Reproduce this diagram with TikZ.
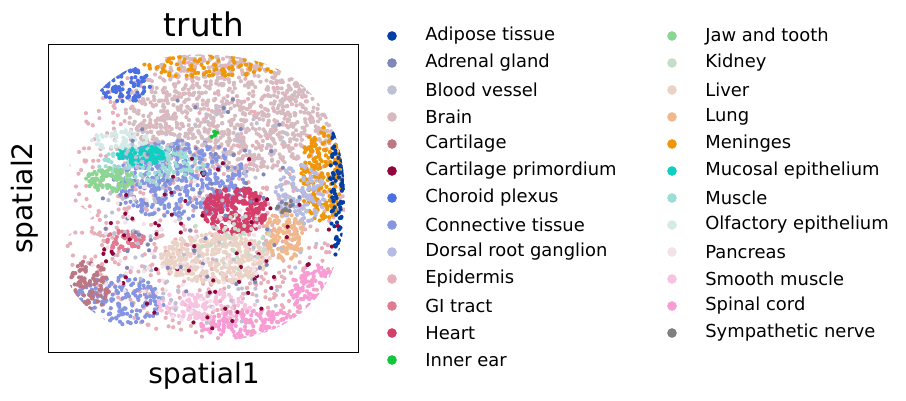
\documentclass[tikz,border=0pt]{standalone}
\usepackage{fontspec}
\setmainfont{DejaVu Sans}
\usetikzlibrary{positioning}
\definecolor{cAdi}{HTML}{023FA5}\definecolor{cAdr}{HTML}{7D87B9}\definecolor{cBlo}{HTML}{BEC1D4}
\definecolor{cBra}{HTML}{D6BCC0}\definecolor{cCar}{HTML}{BB7784}\definecolor{cCap}{HTML}{8E063B}
\definecolor{cCho}{HTML}{4A6FE3}\definecolor{cCon}{HTML}{8595E1}\definecolor{cDor}{HTML}{B5BBE3}
\definecolor{cEpi}{HTML}{E6AFB9}\definecolor{cGIt}{HTML}{E07B91}\definecolor{cHea}{HTML}{D33F6A}
\definecolor{cInn}{HTML}{11C638}\definecolor{cJaw}{HTML}{8DD593}\definecolor{cKid}{HTML}{C6DEC7}
\definecolor{cLiv}{HTML}{EAD3C6}\definecolor{cLun}{HTML}{F0B98D}\definecolor{cMen}{HTML}{EF9708}
\definecolor{cMuc}{HTML}{0FCFC0}\definecolor{cMus}{HTML}{9CDED6}\definecolor{cOlf}{HTML}{D5EAE7}
\definecolor{cPan}{HTML}{F3E1EB}\definecolor{cSmo}{HTML}{F6C4E1}\definecolor{cSpi}{HTML}{F79CD4}
\definecolor{cSym}{HTML}{7F7F7F}
\tikzset{
  legtext/.style={anchor=west, font=\fontsize{10.2}{12}\selectfont, inner sep=0pt},
  legdot/.style={circle, inner sep=0pt, minimum size=5.5pt},
  axlabel/.style={font=\fontsize{16}{18}\selectfont},
}
% scattered dots inside an ellipse: colour, cx, cy, rx, ry, count
\newcommand{\blob}[6]{%
  \foreach \i in {1,...,#6}{%
    \pgfmathsetmacro\rr{sqrt(rnd)}\pgfmathsetmacro\tt{360*rnd}%
    \fill[#1] ({#2+#4*\rr*cos(\tt)},{#3+#5*\rr*sin(\tt)}) circle (2.1);}}
\begin{document}
\begin{tikzpicture}[x=0.02cm, y=-0.02cm]
\useasboundingbox (0,0) rectangle (906,400);
\pgfmathsetseed{7}
% tissue
\begin{scope}
\clip (70,200) .. controls (60,80) and (140,50) .. (215,55)
  .. controls (300,58) and (345,110) .. (345,200)
  .. controls (345,290) and (300,340) .. (205,342)
  .. controls (110,342) and (55,300) .. (62,240) -- (95,215) -- cycle;
\blob{cEpi}{205}{200}{150}{145}{800}
\blob{cBra}{235}{110}{110}{62}{1000}
\blob{cMen}{200}{62}{100}{15}{150}
\blob{cMen}{322}{175}{22}{48}{230}
\blob{cAdi}{337}{185}{7}{75}{100}
\blob{cCho}{125}{85}{25}{18}{90}
\blob{cCon}{180}{180}{70}{40}{450}
\blob{cCon}{120}{300}{45}{25}{180}
\blob{cDor}{300}{195}{25}{30}{120}
\blob{cHea}{235}{210}{32}{25}{300}
\blob{cLiv}{215}{258}{55}{25}{400}
\blob{cLun}{285}{235}{20}{25}{140}
\blob{cMus}{150}{165}{55}{20}{140}
\blob{cMuc}{140}{155}{25}{10}{90}
\blob{cJaw}{110}{180}{25}{12}{100}
\blob{cOlf}{120}{140}{30}{10}{60}
\blob{cGIt}{125}{240}{20}{10}{60}
\blob{cCar}{90}{285}{20}{25}{100}
\blob{cSmo}{205}{305}{50}{15}{140}
\blob{cSpi}{270}{325}{70}{15}{240}
\blob{cSpi}{315}{290}{25}{25}{140}
\blob{cBlo}{215}{215}{110}{110}{120}
\blob{cCap}{220}{240}{120}{90}{70}
\blob{cAdr}{200}{200}{110}{110}{60}
\blob{cPan}{180}{250}{90}{70}{60}
\blob{cKid}{230}{240}{40}{30}{30}
\blob{cSym}{285}{205}{8}{8}{10}
\blob{cInn}{215}{135}{4}{4}{4}
\end{scope}
% axes
\draw[line width=0.5pt] (48,44) rectangle (358,352);
\node (title) at (204,24) {\fontsize{18.5}{22}\selectfont truth};
\node (xlab) [axlabel] at (204,376) {spatial1};
\node (ylab) [axlabel, rotate=90] at (25,198) {spatial2};
% legend
\foreach \c/\t [count=\k from 0] in {cAdi/Adipose tissue, cAdr/Adrenal gland, cBlo/Blood vessel,
  cBra/Brain, cCar/Cartilage, cCap/Cartilage primordium, cCho/Choroid plexus,
  cCon/Connective tissue, cDor/Dorsal root ganglion, cEpi/Epidermis, cGIt/GI tract,
  cHea/Heart, cInn/Inner ear}{
  \node[legdot, fill=\c] (la\k) at (392,36+27*\k) {};
  \node[legtext] (lt\k) at (425,36+27*\k) {\t};
}
\foreach \c/\t [count=\k from 0] in {cJaw/Jaw and tooth, cKid/Kidney, cLiv/Liver, cLun/Lung,
  cMen/Meninges, cMuc/Mucosal epithelium, cMus/Muscle, cOlf/Olfactory epithelium,
  cPan/Pancreas, cSmo/Smooth muscle, cSpi/Spinal cord, cSym/Sympathetic nerve}{
  \node[legdot, fill=\c] (lb\k) at (672,36+27*\k) {};
  \node[legtext] (ls\k) at (705,36+27*\k) {\t};
}
\end{tikzpicture}
\end{document}
